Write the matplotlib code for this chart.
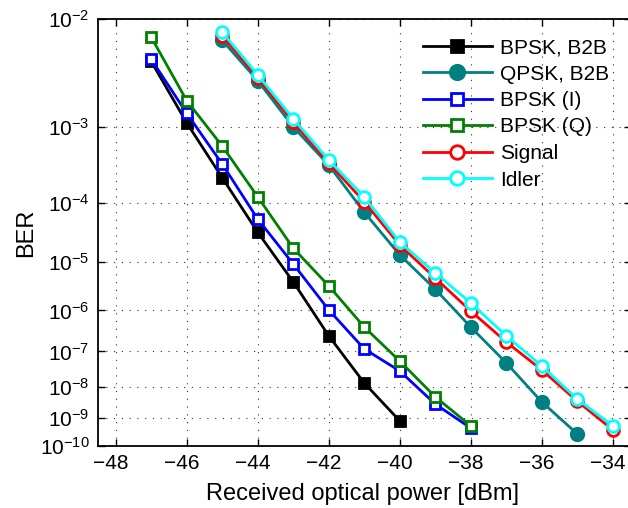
"""BER vs received optical power, B2B and PSA-regenerated channels."""

import numpy as np
import matplotlib

matplotlib.use("Agg")
import matplotlib.pyplot as plt
import matplotlib.transforms as mtransforms
from matplotlib.ticker import FixedLocator, FixedFormatter, NullLocator

# received optical power [dBm] and measured BER per trace
power_bpsk_b2b = [-47, -46, -45, -44, -43, -42, -41, -40]
ber_bpsk_b2b = [4.5e-3, 1.1e-3, 2.3e-4, 3.4e-5, 4.1e-6, 2.5e-7, 1.3e-8, 8.0e-10]

power_qpsk_b2b = [-45, -44, -43, -42, -41, -40, -39, -38, -37, -36, -35]
ber_qpsk_b2b = [6.8e-3, 3.0e-3, 9.9e-4, 3.4e-4, 7.2e-5, 1.36e-5, 2.9e-6,
                4.1e-7, 4.9e-8, 3.4e-9, 2.8e-10]

power_bpsk_i = [-47, -46, -45, -44, -43, -42, -41, -40, -39, -38]
ber_bpsk_i = [4.7e-3, 1.4e-3, 3.5e-4, 5.6e-5, 9.2e-6, 1.03e-6, 1.16e-7,
              2.9e-8, 2.9e-9, 4.5e-10]

power_bpsk_q = [-47, -46, -45, -44, -43, -42, -41, -40, -39, -38]
ber_bpsk_q = [7.2e-3, 1.9e-3, 5.9e-4, 1.23e-4, 1.8e-5, 3.4e-6, 4.1e-7,
              5.5e-8, 4.9e-9, 5.4e-10]

power_signal = [-45, -44, -43, -42, -41, -40, -39, -38, -37, -36, -35, -34]
ber_signal = [7.4e-3, 3.2e-3, 1.12e-3, 3.6e-4, 1.04e-4, 2.05e-5, 4.9e-6,
              9.7e-7, 1.76e-7, 3.1e-8, 3.6e-9, 3.9e-10]

power_idler = [-45, -44, -43, -42, -41, -40, -39, -38, -37, -36, -35, -34]
ber_idler = [7.9e-3, 3.4e-3, 1.22e-3, 3.95e-4, 1.23e-4, 2.3e-5, 6.2e-6,
             1.47e-6, 2.5e-7, 4.0e-8, 4.2e-9, 5.4e-10]

labels = ["BPSK, B2B", "QPSK, B2B", "BPSK (I)", "BPSK (Q)", "Signal", "Idler"]
y_exponents = [2, 3, 4, 5, 6, 7, 8, 9, 10]
x_ticks = [-48, -46, -44, -42, -40, -38, -36, -34]


def fwd(y):
    # BER axis is linear in log10(-log10(BER))
    y = np.clip(np.asarray(y, dtype=float), 1e-300, 1 - 1e-12)
    return -np.log10(-np.log10(y))


def inv(f):
    return 10.0 ** (-(10.0 ** (-np.asarray(f, dtype=float))))


def main():
    plt.rcParams.update({
        "font.family": ["Liberation Sans", "DejaVu Sans"],
        "mathtext.default": "regular",
        "font.size": 15,
    })
    W, H = 628, 508
    fig = plt.figure(figsize=(W / 100, H / 100), dpi=100)
    left, right, top, bottom = 98, 630.5, 19, 446
    ax = fig.add_axes([left / W, 1 - bottom / H, (right - left) / W,
                       (bottom - top) / H])

    traces = [
        (power_bpsk_b2b, ber_bpsk_b2b, "k", "s", "k", 7.5),
        (power_qpsk_b2b, ber_qpsk_b2b, "#008080", "o", "#008080", 9),
        (power_bpsk_i, ber_bpsk_i, "#0000ff", "s", "white", 7.5),
        (power_bpsk_q, ber_bpsk_q, "#008000", "s", "white", 7.5),
        (power_signal, ber_signal, "#ff0000", "o", "white", 8.5),
        (power_idler, ber_idler, "#00ffff", "o", "white", 8.5),
    ]
    for (x, y, c, m, fc, ms), lab in zip(traces, labels):
        ax.plot(x, y, color=c, lw=2.0, marker=m, ms=ms, mfc=fc, mec=c,
                mew=2.0, label=lab, zorder=3)

    ax.set_yscale("function", functions=(fwd, inv))
    ax.set_ylim(1e-10, 1e-2)
    ax.set_xlim(-48.5, -33.5)
    yt = [10.0 ** (-k) for k in y_exponents]
    ax.yaxis.set_major_locator(FixedLocator(yt))
    ax.yaxis.set_major_formatter(
        FixedFormatter([f"$10^{{-{k}}}$" for k in y_exponents]))
    ax.yaxis.set_minor_locator(NullLocator())
    ax.set_xticks(x_ticks)
    ax.set_xticklabels([f"\u2212{abs(v)}" for v in x_ticks])
    ax.xaxis.set_minor_locator(NullLocator())

    ax.tick_params(direction="in", length=5, width=1.0, top=True, right=True,
                   labelsize=15, pad=6, colors="black")
    # labels sit a few px left of their ticks in the original
    shift = mtransforms.ScaledTranslation(-5 / 100, 0, fig.dpi_scale_trans)
    for lbl in ax.get_xticklabels():
        lbl.set_transform(lbl.get_transform() + shift)
    for sp in ax.spines.values():
        sp.set_linewidth(1.3)
    ax.grid(True, color="#333333", lw=0.8, linestyle=(0, (1, 6)))
    ax.set_axisbelow(True)

    fig.text(363 / W, 1 - 500 / H, "Received optical power [dBm]",
             fontsize=17, ha="center", va="baseline")
    fig.text(32 / W, 1 - 233 / H, "BER", fontsize=17, rotation=90,
             rotation_mode="anchor", ha="center", va="baseline")

    ax.legend(loc="upper left", bbox_to_anchor=(423 / W, 1 - 38 / H),
              bbox_transform=fig.transFigure, frameon=False, fontsize=15,
              handlelength=3.3, handletextpad=0.4, labelspacing=0.36,
              borderpad=0, borderaxespad=0, numpoints=1, markerscale=1.15)

    fig.savefig("out.png", dpi=100)


if __name__ == "__main__":
    main()
